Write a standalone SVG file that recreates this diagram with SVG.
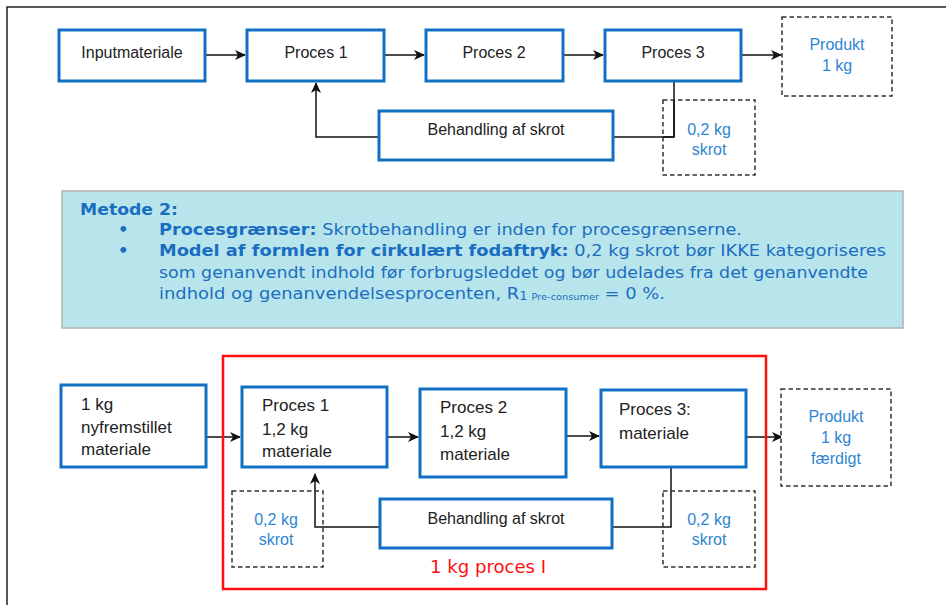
<svg xmlns="http://www.w3.org/2000/svg" width="946" height="605" viewBox="0 0 946 605">
<defs>
<style>
.box{fill:#fff;stroke:#1270c4;stroke-width:3}
.dash{fill:#fff;stroke:#333;stroke-width:1.5;stroke-dasharray:4.5 3}
.t{font-family:"Liberation Sans",Arial,sans-serif;font-size:16px;fill:#222}
.tb{font-family:"Liberation Sans",Arial,sans-serif;font-size:17px;fill:#222}
.bl{font-family:"Liberation Sans",Arial,sans-serif;font-size:16px;fill:#2e86d2}
.v{font-family:"DejaVu Sans",Verdana,sans-serif;font-size:16.5px;fill:#1a6ec0}
.vb{font-weight:bold}
.conn{fill:none;stroke:#111;stroke-width:1.5}
</style>
<marker id="arr" markerWidth="12" markerHeight="12" refX="10" refY="6" orient="auto" markerUnits="userSpaceOnUse">
<path d="M0,1 L11,6 L0,11 L3,6 z" fill="#111"/>
</marker>
</defs>
<rect width="946" height="605" fill="#fff"/>
<path d="M7,605 V7 H946" fill="none" stroke="#222" stroke-width="1.5"/>

<g id="connectors">
<line class="conn" x1="205" y1="55" x2="245" y2="55" marker-end="url(#arr)"/>
<line class="conn" x1="384" y1="55" x2="424" y2="55" marker-end="url(#arr)"/>
<line class="conn" x1="563" y1="55" x2="603" y2="55" marker-end="url(#arr)"/>
<line class="conn" x1="741" y1="55" x2="781" y2="55" marker-end="url(#arr)"/>
<polyline class="conn" points="674,81 674,137 613,137"/>
<polyline class="conn" points="379,137 316,137 316,83" marker-end="url(#arr)"/>

<line class="conn" x1="206" y1="437" x2="240" y2="437" marker-end="url(#arr)"/>
<line class="conn" x1="387" y1="437" x2="418" y2="437" marker-end="url(#arr)"/>
<line class="conn" x1="566" y1="436" x2="599" y2="436" marker-end="url(#arr)"/>
<line class="conn" x1="746" y1="437" x2="782" y2="437" marker-end="url(#arr)"/>
<polyline class="conn" points="671,467 671,527 612,527"/>
<polyline class="conn" points="380,527 315,527 315,474" marker-end="url(#arr)"/>
</g>

<g id="inputmateriale"><rect class="box" x="59" y="30" width="146" height="51"/><text class="t" x="132" y="58" text-anchor="middle">Inputmateriale</text></g>
<g id="proces1-top"><rect class="box" x="247" y="30" width="137" height="51"/><text class="t" x="316" y="58" text-anchor="middle">Proces 1</text></g>
<g id="proces2-top"><rect class="box" x="426" y="30" width="137" height="51"/><text class="t" x="494" y="58" text-anchor="middle">Proces 2</text></g>
<g id="proces3-top"><rect class="box" x="605" y="30" width="136" height="51"/><text class="t" x="673" y="58" text-anchor="middle">Proces 3</text></g>
<g id="produkt-top"><rect class="dash" x="782" y="17" width="110" height="79"/><text class="bl" x="837" y="50" text-anchor="middle">Produkt</text><text class="bl" x="837" y="71" text-anchor="middle">1 kg</text></g>
<g id="behandling-top"><rect class="box" x="379" y="111" width="234" height="49"/><text class="t" x="496" y="135" text-anchor="middle">Behandling af skrot</text></g>
<g id="skrot-top"><rect class="dash" x="663" y="100" width="92" height="75" fill-opacity="0"/><line class="conn" x1="674" y1="100" x2="674" y2="137"/><line class="conn" x1="663" y1="137" x2="674" y2="137"/><text class="bl" x="709" y="135" text-anchor="middle">0,2 kg</text><text class="bl" x="709" y="155" text-anchor="middle">skrot</text></g>

<g id="metode-box">
<rect x="62" y="191" width="841" height="137" fill="#b8e4ec" stroke="#b3b3b3" stroke-width="1.5"/>
<text class="v vb" x="80" y="215" textLength="98" lengthAdjust="spacingAndGlyphs">Metode 2:</text>
<text class="v vb" x="118" y="235">•</text>
<text class="v vb" x="118" y="256">•</text>
<text class="v" x="159" y="235" textLength="583" lengthAdjust="spacingAndGlyphs"><tspan class="vb">Procesgrænser:</tspan> Skrotbehandling er inden for procesgrænserne.</text>
<text class="v" x="159" y="256" textLength="727" lengthAdjust="spacingAndGlyphs"><tspan class="vb">Model af formlen for cirkulært fodaftryk:</tspan> 0,2 kg skrot bør IKKE kategoriseres</text>
<text class="v" x="159" y="278" textLength="709" lengthAdjust="spacingAndGlyphs">som genanvendt indhold før forbrugsleddet og bør udelades fra det genanvendte</text>
<text class="v" x="159" y="299" textLength="506" lengthAdjust="spacingAndGlyphs">indhold og genanvendelsesprocenten, R<tspan font-size="12" dy="1">1 </tspan><tspan font-size="9">Pre-consumer</tspan><tspan dy="-1"> = 0 %.</tspan></text>
</g>

<g id="proces-I">
<rect x="223" y="356" width="543" height="233" fill="none" stroke="#ff1010" stroke-width="2.5"/>
<text x="430" y="573" textLength="116" lengthAdjust="spacingAndGlyphs" style="font-family:'DejaVu Sans',Verdana,sans-serif;font-size:17px;fill:#ff1010">1 kg proces I</text>
</g>

<g id="nyfremstillet"><rect class="box" x="61" y="385" width="145" height="82"/><text class="tb" x="81" y="410">1 kg</text><text class="tb" x="81" y="433">nyfremstillet</text><text class="tb" x="81" y="455">materiale</text></g>
<g id="proces1-bot"><rect class="box" x="242" y="387" width="145" height="80"/><text class="tb" x="262" y="411">Proces 1</text><text class="tb" x="262" y="435">1,2 kg</text><text class="tb" x="262" y="457">materiale</text></g>
<g id="proces2-bot"><rect class="box" x="420" y="389" width="146" height="88"/><text class="tb" x="440" y="413">Proces 2</text><text class="tb" x="440" y="437">1,2 kg</text><text class="tb" x="440" y="460">materiale</text></g>
<g id="proces3-bot"><rect class="box" x="601" y="390" width="145" height="77"/><text class="tb" x="619" y="415">Proces 3:</text><text class="tb" x="619" y="439">materiale</text></g>
<g id="produkt-bot"><rect class="dash" x="781" y="389" width="110" height="97"/><text class="bl" x="836" y="422" text-anchor="middle">Produkt</text><text class="bl" x="836" y="443" text-anchor="middle">1 kg</text><text class="bl" x="836" y="464" text-anchor="middle">færdigt</text></g>
<g id="behandling-bot"><rect class="box" x="380" y="499" width="232" height="49"/><text class="t" x="496" y="524" text-anchor="middle">Behandling af skrot</text></g>
<g id="skrot-left"><rect class="dash" x="232" y="491" width="91" height="76" fill-opacity="0"/><text class="bl" x="276" y="525" text-anchor="middle">0,2 kg</text><text class="bl" x="276" y="545" text-anchor="middle">skrot</text></g>
<g id="skrot-right"><rect class="dash" x="663" y="491" width="92" height="76" fill-opacity="0"/><text class="bl" x="709" y="525" text-anchor="middle">0,2 kg</text><text class="bl" x="709" y="545" text-anchor="middle">skrot</text></g>
</svg>
